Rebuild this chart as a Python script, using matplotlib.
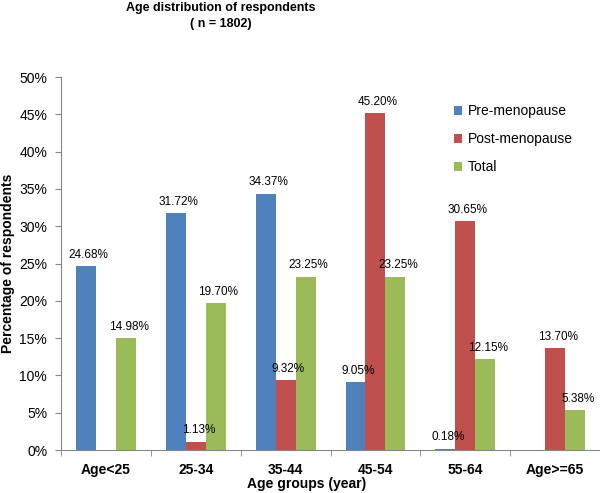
import matplotlib.pyplot as plt
import numpy as np
from matplotlib.ticker import PercentFormatter

plt.rcParams.update({"font.family": ["Liberation Sans", "DejaVu Sans"], "font.size": 10})

categories = ["Age<25", "25-34", "35-44", "45-54", "55-64", "Age>=65"]
pre_meno = [24.68, 31.72, 34.37, 9.05, 0.18, None]
post_meno = [None, 1.13, 9.32, 45.20, 30.65, 13.70]
total = [14.98, 19.70, 23.25, 23.25, 12.15, 5.38]

series = [
    ("Pre-menopause", pre_meno, "#4F81BD"),
    ("Post-menopause", post_meno, "#C0504D"),
    ("Total", total, "#9BBB59"),
]

fig = plt.figure(figsize=(6, 4.93), dpi=100)
ax = fig.add_axes([0.1017, 0.0872, 0.8983, 0.7566])

x = np.arange(len(categories))
width = 0.222
for i, (name, vals, color) in enumerate(series):
    pos = x + (i - 1) * width
    heights = [v if v is not None else 0 for v in vals]
    ax.bar(pos, heights, width=width, color=color, label=name)
    for p, v in zip(pos, vals):
        if v is None:
            continue
        ax.text(p + 0.03, v + 0.7, f"{v:.2f}%", ha="center", va="bottom", fontsize=8.5)

ax.set_xlim(-0.5, len(categories) - 0.5)
ax.set_ylim(0, 50)
ax.set_yticks(np.arange(0, 51, 5))
ax.yaxis.set_major_formatter(PercentFormatter(decimals=0))
ax.set_xticks(x)
ax.set_xticklabels(categories, fontweight="bold", fontsize=10)
ax.set_xticks(np.arange(-0.5, len(categories)), minor=True)
ax.tick_params(axis="x", which="major", length=0, pad=9)
ax.tick_params(axis="x", which="minor", length=4)
ax.tick_params(axis="y", length=4, labelsize=10, pad=6)

for s in ["top", "right"]:
    ax.spines[s].set_visible(False)
ax.spines["left"].set_color("#868686")
ax.spines["bottom"].set_color("#868686")
ax.tick_params(colors="#868686", labelcolor="black", which="both")

ax.set_xlabel("Age groups (year)", fontweight="bold", fontsize=10)
ax.xaxis.set_label_coords(0.455, -0.072)
ax.set_ylabel("Percentage of respondents", fontweight="bold", fontsize=10)
ax.yaxis.set_label_coords(-0.085, 0.5)

fig.text(0.368, 0.995, "Age distribution of respondents\n( n = 1802)", ha="center", va="top",
         fontweight="bold", fontsize=9, linespacing=1.35)

ax.legend(loc="upper left", bbox_to_anchor=(0.705, 0.96), frameon=False, fontsize=10,
          handlelength=0.6, handleheight=0.6, handletextpad=0.4, labelspacing=1.0)

fig.savefig("out.png", dpi=100)
